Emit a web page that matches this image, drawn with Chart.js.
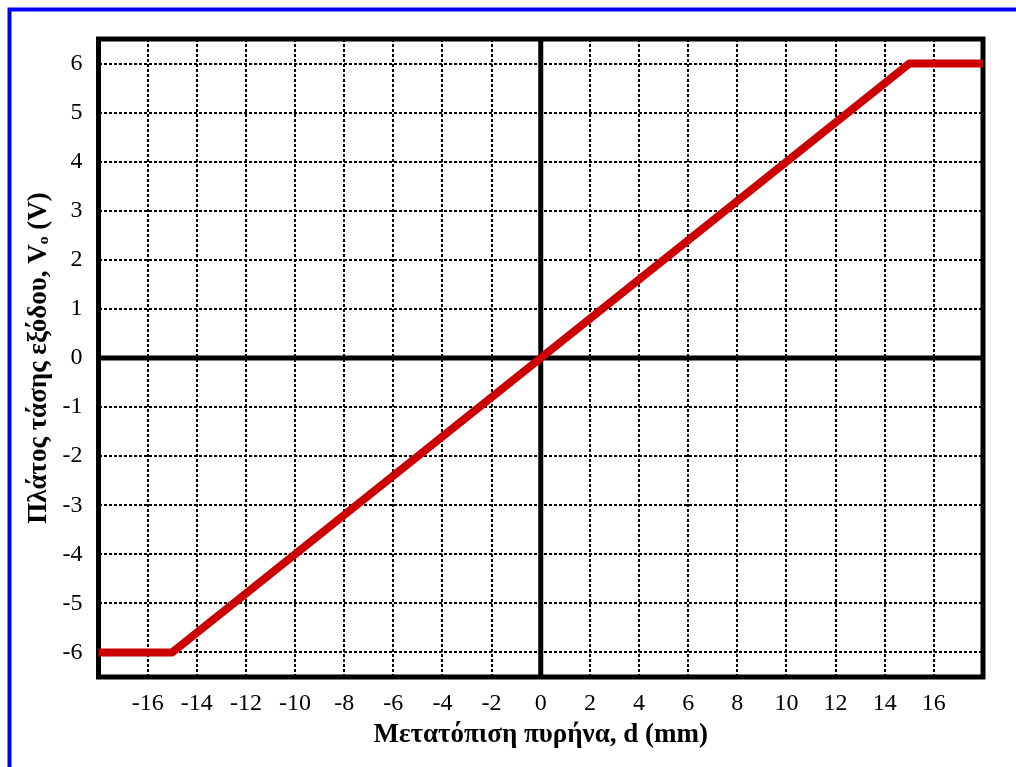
<!DOCTYPE html>
<html>
<head>
<meta charset="utf-8">
<style>
  html, body { margin: 0; padding: 0; background: #ffffff; overflow: hidden; }
  #wrap { position: absolute; left: 0; top: 0; width: 1016px; height: 767px; }
</style>
<script src="https://cdn.jsdelivr.net/npm/chart.js@4"></script>
</head>
<body>
<div id="wrap"><canvas id="c" width="1016" height="767"></canvas></div>
<script>
// ---- Data ----
const displacementMm = [-18, -15, 15, 18];
const outputVoltage  = [-6, -6, 6, 6];
const xTickValues = [-18, -16, -14, -12, -10, -8, -6, -4, -2, 0, 2, 4, 6, 8, 10, 12, 14, 16, 18];
const xTickLabels = ['', '-16', '-14', '-12', '-10', '-8', '-6', '-4', '-2', '0', '2', '4', '6', '8', '10', '12', '14', '16', ''];
const yTickValues = [-6, -5, -4, -3, -2, -1, 0, 1, 2, 3, 4, 5, 6];
const yTickLabels = ['-6', '-5', '-4', '-3', '-2', '-1', '0', '1', '2', '3', '4', '5', '6'];
const xTitle = 'Μετατόπιση πυρήνα, d (mm)';
const yTitle = 'Πλάτος τάσης εξόδου, Vₒ (V)';

const points = displacementMm.map((x, i) => ({ x: x, y: outputVoltage[i] }));

const serif = "'Liberation Serif', 'Times New Roman', serif";

const framePlugin = {
  id: 'frame',
  beforeDatasetsDraw(chart) {
    const { ctx, chartArea: a, scales } = chart;
    ctx.save();
    ctx.setLineDash([]);
    ctx.strokeStyle = '#000000';
    ctx.lineWidth = 5;
    ctx.lineCap = 'butt';
    const x0 = scales.x.getPixelForValue(0);
    const y0 = scales.y.getPixelForValue(0);
    ctx.beginPath();
    ctx.moveTo(x0, a.top); ctx.lineTo(x0, a.bottom);
    ctx.moveTo(a.left, y0); ctx.lineTo(a.right, y0);
    ctx.stroke();
    ctx.lineJoin = 'miter';
    ctx.strokeRect(a.left, a.top, a.right - a.left, a.bottom - a.top);
    ctx.restore();
  },
  afterDraw(chart) {
    const ctx = chart.ctx;
    ctx.save();
    ctx.setLineDash([]);
    ctx.strokeStyle = '#0000ff';
    ctx.lineWidth = 4;
    ctx.strokeRect(9.5, 9.5, 1200, 1000);
    ctx.restore();
  }
};

new Chart(document.getElementById('c'), {
  type: 'line',
  data: {
    datasets: [{
      data: points,
      borderColor: '#cc0000',
      borderWidth: 8,
      borderCapStyle: 'round',
      borderJoinStyle: 'round',
      pointRadius: 0,
      tension: 0,
      fill: false
    }]
  },
  options: {
    responsive: false,
    animation: false,
    devicePixelRatio: 1,
    layout: { padding: { left: 0, top: 39, right: 33, bottom: 0 } },
    plugins: { legend: { display: false }, tooltip: { enabled: false } },
    scales: {
      x: {
        type: 'linear',
        min: -18, max: 18,
        afterBuildTicks(scale) { scale.ticks = xTickValues.map(v => ({ value: v })); },
        afterFit(scale) { scale.height = 90; },
        border: { display: false, dash: [3, 2] },
        grid: { color: '#000000', lineWidth: 2, drawTicks: false },
        ticks: {
          color: '#000000',
          font: { family: serif, size: 24 },
          padding: 12,
          maxRotation: 0,
          autoSkip: false,
          callback: (v) => { const i = xTickValues.indexOf(v); return i >= 0 ? xTickLabels[i] : ''; }
        },
        title: {
          display: true, text: xTitle, color: '#000000',
          font: { family: serif, size: 27, weight: 'bold' },
          padding: { top: 0, bottom: 16 }
        }
      },
      y: {
        type: 'linear',
        min: -6.5, max: 6.5,
        afterBuildTicks(scale) { scale.ticks = yTickValues.map(v => ({ value: v })); },
        afterFit(scale) { scale.width = 98.5; },
        border: { display: false, dash: [3, 2] },
        grid: { color: '#000000', lineWidth: 2, drawTicks: false },
        ticks: {
          color: '#000000',
          font: { family: serif, size: 24 },
          padding: 16,
          autoSkip: false,
          callback: (v) => { const i = yTickValues.indexOf(v); return i >= 0 ? yTickLabels[i] : ''; }
        },
        title: {
          display: true, text: yTitle, color: '#000000',
          font: { family: serif, size: 27, weight: 'bold' },
          padding: { top: 23, bottom: 0 }
        }
      }
    }
  },
  plugins: [framePlugin]
});
</script>
</body>
</html>
